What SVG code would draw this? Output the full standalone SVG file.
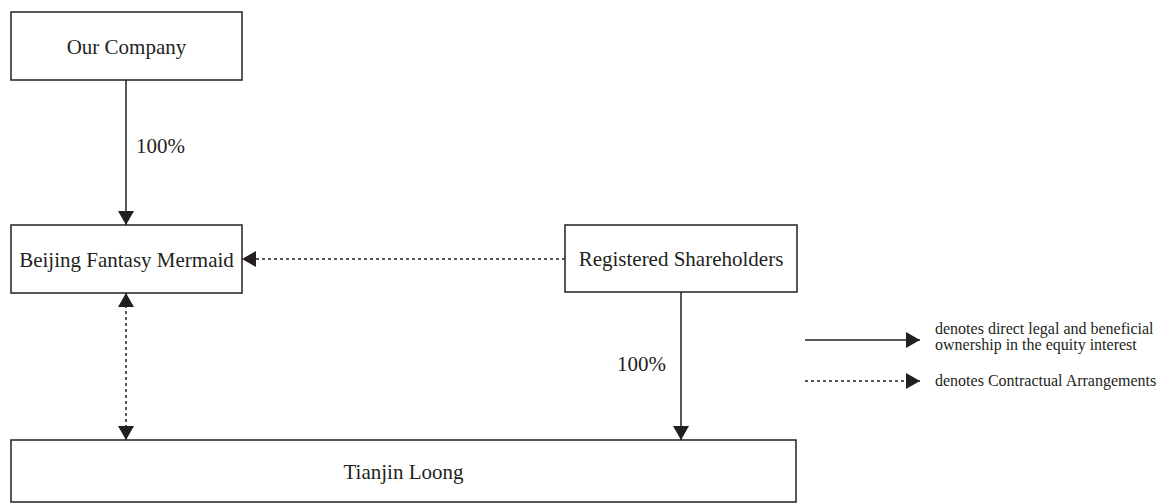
<svg xmlns="http://www.w3.org/2000/svg" width="1168" height="503" viewBox="0 0 1168 503">
<style>
.box{fill:#fff;stroke:#231f20;stroke-width:1.5}
.t{font-family:"Liberation Serif","Times New Roman",serif;font-size:21px;fill:#231f20}
.lg{font-family:"Liberation Serif","Times New Roman",serif;font-size:16px;fill:#231f20}
.solid{stroke:#231f20;stroke-width:1.5;fill:none}
.dot{stroke:#231f20;stroke-width:1.5;fill:none;stroke-dasharray:3 3}
</style>
<defs>
<marker id="ah" viewBox="0 0 14 16" refX="14" refY="8" markerWidth="14" markerHeight="16" markerUnits="userSpaceOnUse" orient="auto-start-reverse">
<path d="M0,0 L14,8 L0,16 Z" fill="#231f20"/>
</marker>
</defs>
<rect width="1168" height="503" fill="#fff"/>
<g id="our-company">
<rect class="box" x="11" y="12" width="231" height="68"/>
<text class="t" x="126.5" y="54" text-anchor="middle">Our Company</text>
</g>
<g id="beijing-fantasy-mermaid">
<rect class="box" x="11" y="225" width="231" height="68"/>
<text class="t" x="126.5" y="267" text-anchor="middle">Beijing Fantasy Mermaid</text>
</g>
<g id="registered-shareholders">
<rect class="box" x="565" y="225" width="232" height="67"/>
<text class="t" x="681" y="266" text-anchor="middle">Registered Shareholders</text>
</g>
<g id="tianjin-loong">
<rect class="box" x="11" y="440" width="785" height="62"/>
<text class="t" x="403.5" y="479" text-anchor="middle">Tianjin Loong</text>
</g>
<g id="connectors">
<line class="solid" x1="126" y1="80" x2="126" y2="225" marker-end="url(#ah)"/>
<text class="t" x="136" y="153">100%</text>
<line class="dot" x1="565" y1="259" x2="242" y2="259" marker-end="url(#ah)"/>
<line class="dot" x1="126" y1="293" x2="126" y2="440" marker-start="url(#ah)" marker-end="url(#ah)"/>
<line class="solid" x1="681" y1="292" x2="681" y2="440" marker-end="url(#ah)"/>
<text class="t" x="617" y="371">100%</text>
</g>
<g id="legend">
<line class="solid" x1="805" y1="340" x2="920" y2="340" marker-end="url(#ah)"/>
<text class="lg" x="935" y="334">denotes direct legal and beneficial</text>
<text class="lg" x="935" y="350">ownership in the equity interest</text>
<line class="dot" x1="805" y1="381" x2="920" y2="381" marker-end="url(#ah)"/>
<text class="lg" x="935" y="386">denotes Contractual Arrangements</text>
</g>
</svg>
